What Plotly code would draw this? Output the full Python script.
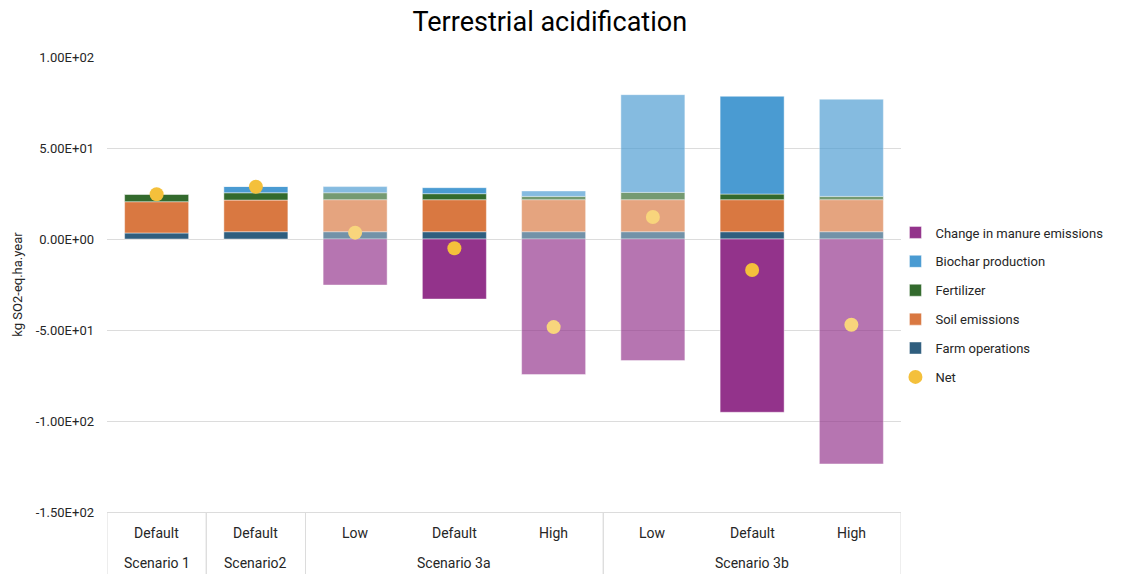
import plotly.graph_objects as go

# Category levels (outer scenario, inner variant)
scenarios = ["Scenario 1", "Scenario2", "Scenario 3a", "Scenario 3a", "Scenario 3a",
             "Scenario 3b", "Scenario 3b", "Scenario 3b"]
variants = ["Default", "Default", "Low", "Default", "High", "Low", "Default", "High"]

# Contributions, kg SO2-eq.ha.year
farm_operations = [3.3, 4.0, 4.0, 4.0, 4.0, 4.0, 4.0, 4.0]
soil_emissions = [17.2, 17.4, 17.6, 17.6, 17.6, 17.6, 17.6, 17.6]
fertilizer = [4.2, 4.0, 3.8, 3.3, 1.8, 4.0, 3.1, 1.8]
biochar_production = [0.0, 3.5, 3.4, 3.3, 3.0, 53.7, 53.7, 53.4]
manure_change = [0.0, 0.0, -25.3, -33.0, -74.5, -66.8, -95.2, -123.6]
net = [24.6, 28.7, 3.5, -5.1, -48.4, 12.1, -17.0, -47.1]

y_ticks = [-150, -100, -50, 0, 50, 100]
y_tick_text = ["-1.50E+02", "-1.00E+02", "-5.00E+01", "0.00E+00", "5.00E+01", "1.00E+02"]

# Default variants drawn solid, sensitivity variants faded
is_default = [v == "Default" for v in variants]
opac = [1.0 if d else 0.67 for d in is_default]
net_colors = ["#F4C03B" if d else "#F8D57C" for d in is_default]

pos = list(range(len(variants)))
FONT = "Roboto, Arial, sans-serif"
GRID = "#DCDCDC"
TEXT = "#262626"

# plot area geometry (px) used to place the two-level category labels
PLOT_H = 574 - 57 - 62

fig = go.Figure()


def add_bar(name, values, color, rank):
    fig.add_trace(go.Bar(
        x=pos, y=values, name=name,
        marker=dict(color=color, opacity=opac,
                    line=dict(width=0.8, color="rgba(255,255,255,0.55)")),
        legendrank=rank, legendgroup=name,
    ))


# stacking order: bottom to top
add_bar("Farm operations", farm_operations, "#2F5E7E", 5)
add_bar("Soil emissions", soil_emissions, "#D97841", 4)
add_bar("Fertilizer", fertilizer, "#336A2D", 3)
add_bar("Biochar production", biochar_production, "#4A9BD2", 2)
add_bar("Change in manure emissions", manure_change, "#93338B", 1)

fig.add_trace(go.Scatter(
    x=pos, y=net, name="Net", mode="markers",
    marker=dict(color=net_colors, size=14, line=dict(width=0)),
    legendrank=6, legendgroup="Net",
))

# two-level category axis: inner variant labels, outer scenario labels, dividers
inner_y = -21 / PLOT_H
outer_y = -51 / PLOT_H
bottom_y = -62 / PLOT_H
for i, v in enumerate(variants):
    fig.add_annotation(x=i, y=inner_y, xref="x", yref="paper", text=v,
                       showarrow=False, yanchor="middle",
                       font=dict(family=FONT, size=14, color=TEXT))

groups = []
for i, s in enumerate(scenarios):
    if groups and groups[-1][0] == s:
        groups[-1][2] = i
    else:
        groups.append([s, i, i])

for s, a, b in groups:
    fig.add_annotation(x=(a + b) / 2, y=outer_y, xref="x", yref="paper", text=s,
                       showarrow=False, yanchor="middle",
                       font=dict(family=FONT, size=14, color=TEXT))
    for edge in (a - 0.5, b + 0.5):
        fig.add_shape(type="line", xref="x", yref="paper",
                      x0=edge, x1=edge, y0=0, y1=bottom_y,
                      line=dict(color=GRID, width=1))

fig.update_layout(
    width=1122, height=574,
    margin=dict(l=107, r=221, t=57, b=62),
    paper_bgcolor="white", plot_bgcolor="white",
    barmode="relative", bargap=0.355,
    font=dict(family=FONT, size=14, color=TEXT),
    title=dict(text="Terrestrial acidification", x=0.49, xanchor="center",
               y=0.963, yanchor="middle",
               font=dict(family=FONT, size=27, color="#000000")),
    legend=dict(x=0.993, xanchor="left", y=0.455, yanchor="middle",
                font=dict(family=FONT, size=13, color=TEXT),
                tracegroupgap=9, itemwidth=30, bgcolor="rgba(0,0,0,0)"),
    showlegend=True,
)

fig.update_yaxes(
    range=[-150, 100], tickvals=y_ticks, ticktext=y_tick_text,
    showgrid=True, gridcolor=GRID, gridwidth=1,
    zeroline=True, zerolinecolor=GRID, zerolinewidth=1,
    showline=False, ticks="", ticklabelstandoff=12,
    tickfont=dict(family=FONT, size=13, color=TEXT),
    title=dict(text="kg SO2-eq.ha.year", standoff=10,
               font=dict(family=FONT, size=13, color=TEXT)),
)

fig.update_xaxes(
    range=[-0.5, len(variants) - 0.5], showgrid=False, showticklabels=False,
    zeroline=False, showline=True, linecolor=GRID, linewidth=1, ticks="",
)

fig.write_html("out.html")
